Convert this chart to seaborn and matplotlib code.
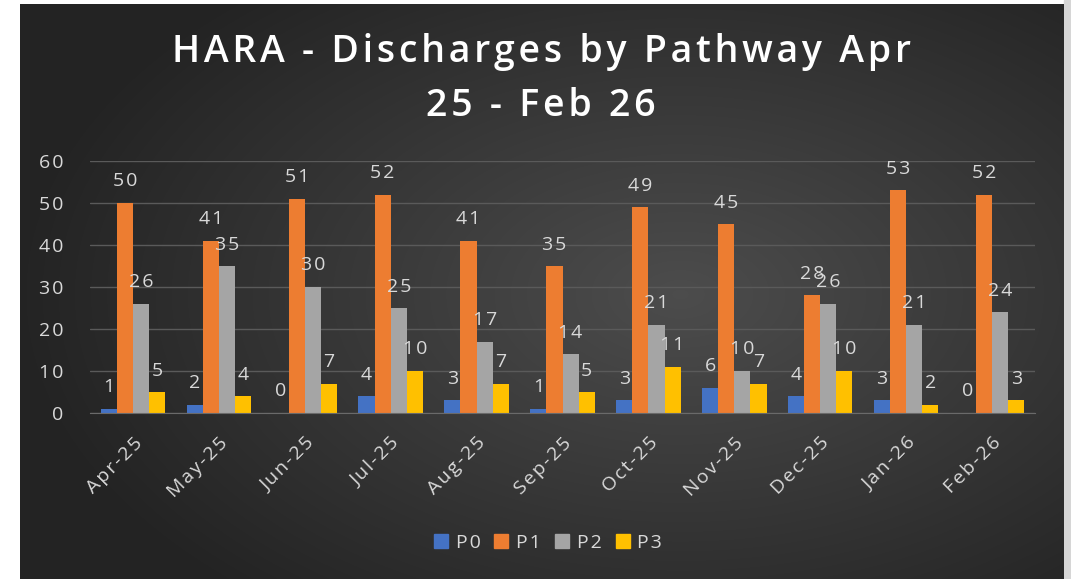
import seaborn as sns
import matplotlib.pyplot as plt
import pandas as pd
import numpy as np

# Data
months = ['Apr-25', 'May-25', 'Jun-25', 'Jul-25', 'Aug-25', 'Sep-25',
          'Oct-25', 'Nov-25', 'Dec-25', 'Jan-26', 'Feb-26']
pathways = ['P0', 'P1', 'P2', 'P3']
p0 = [1, 2, 0, 4, 3, 1, 3, 6, 4, 3, 0]
p1 = [50, 41, 51, 52, 41, 35, 49, 45, 28, 53, 52]
p2 = [26, 35, 30, 25, 17, 14, 21, 10, 26, 21, 24]
p3 = [5, 4, 7, 10, 7, 5, 11, 7, 10, 2, 3]
colors = ['#4472C4', '#ED7D31', '#A5A5A5', '#FFC000']

df = pd.DataFrame({'Month': months, 'P0': p0, 'P1': p1, 'P2': p2, 'P3': p3})
long_df = df.melt(id_vars='Month', var_name='Pathway', value_name='Count')

sns.set_style('white')
plt.rcParams['font.family'] = ['Open Sans', 'DejaVu Sans']

# the original text is drawn wide, so pad letters with hair spaces
hs = '\u200a'


def spaced(s):
    return hs.join(str(s))


W, H = 1071, 579
fig = plt.figure(figsize=(W / 100, H / 100), dpi=100, facecolor='white')
fig.patches.append(plt.Rectangle((1064 / W, 0), 1, 1, transform=fig.transFigure,
                                 color='#d6d6d6', zorder=-5))

# dark gradient panel behind the chart
bg = fig.add_axes([20 / W, 0, (1064 - 20) / W, 1 - 4 / H])
yy, xx = np.mgrid[0:575, 0:1044]
d = np.sqrt(((xx - 660) / 700.0) ** 2 + ((yy - 290) / 420.0) ** 2)
shade = np.clip(0.30 - 0.17 * d, 0.14, 0.30)
bg.imshow(np.dstack([shade] * 3), aspect='auto', interpolation='bilinear')
bg.set_axis_off()

ax = fig.add_axes([90 / W, 1 - 413 / H, (1035 - 90) / W, (413 - 161) / H])
ax.patch.set_alpha(0)
sns.barplot(data=long_df, x='Month', y='Count', hue='Pathway',
            palette=colors, width=0.75, ax=ax, saturation=1, linewidth=0)

for cont in ax.containers:
    ax.bar_label(cont, labels=[spaced(int(v)) for v in cont.datavalues],
                 padding=9, color='#d9d9d9', fontsize=14)

ax.set_ylim(0, 60)
yticks = list(range(0, 61, 10))
ax.set_yticks(yticks)
ax.set_yticklabels([spaced(t) for t in yticks])
ax.set_xticks(range(len(months)))
ax.set_xticklabels([spaced(m) for m in months])
ax.yaxis.grid(True, color='#5a5a5a', linewidth=1)
ax.set_axisbelow(True)
for s in ['top', 'right', 'left']:
    ax.spines[s].set_visible(False)
ax.spines['bottom'].set_color('#6a6a6a')
ax.tick_params(axis='y', colors='#d9d9d9', labelsize=14, length=0, pad=19)
ax.tick_params(axis='x', colors='#d9d9d9', labelsize=14, length=0, pad=15)
plt.setp(ax.get_xticklabels(), rotation=45, ha='right', rotation_mode='anchor')
ax.set_xlabel('')
ax.set_ylabel('')

ax.legend_.remove()
handles = [plt.Rectangle((0, 0), 1, 1, color=c) for c in colors]
fig.legend(handles, [spaced(p) for p in pathways], loc='center',
           bbox_to_anchor=(548 / W, 1 - 543 / H),
           ncol=4, frameon=False, fontsize=14, labelcolor='#d9d9d9',
           handlelength=0.72, handleheight=0.7, handletextpad=0.4, columnspacing=0.72)

title = '\n'.join(spaced(line) for line in ['HARA - Discharges by Pathway Apr', '25 - Feb 26'])
fig.text(541 / W, 1 - 79 / H, title,
         ha='center', va='center', color='white', fontsize=27, fontweight='semibold',
         linespacing=1.55)

fig.savefig('out.png', dpi=100, facecolor=fig.get_facecolor())
